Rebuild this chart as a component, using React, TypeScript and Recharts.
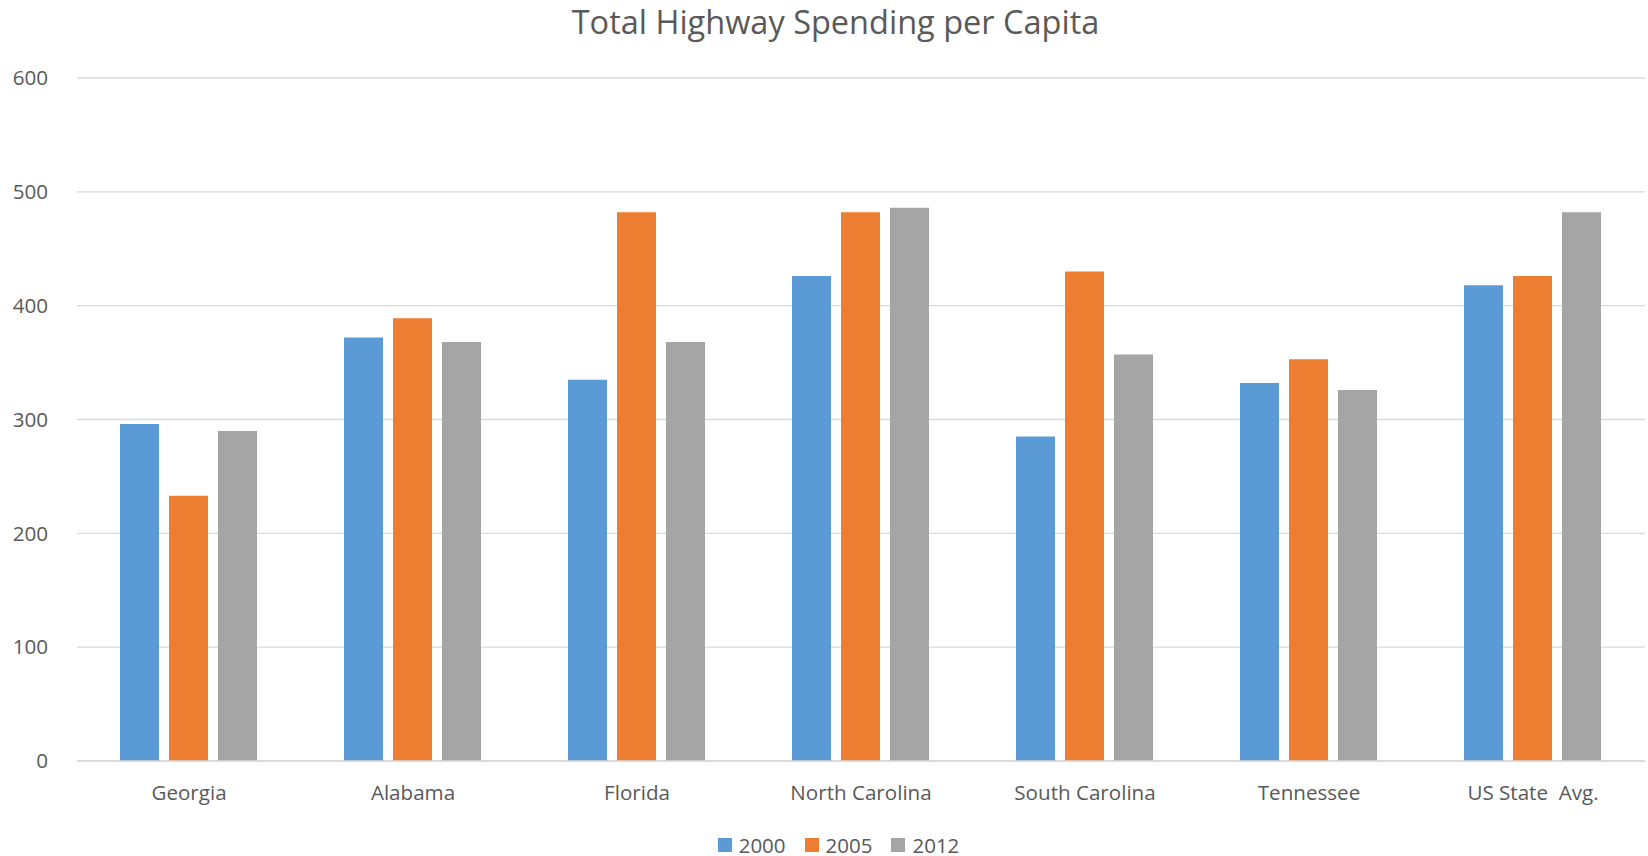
import React from "react";
import { BarChart, Bar, XAxis, YAxis, CartesianGrid, Legend } from "recharts";

const categories = ["Georgia", "Alabama", "Florida", "North Carolina", "South Carolina", "Tennessee", "US State  Avg."];
const values2000 = [296, 372, 335, 426, 285, 332, 418];
const values2005 = [233, 389, 482, 482, 430, 353, 426];
const values2012 = [290, 368, 368, 486, 357, 326, 482];
const yTicks = [0, 100, 200, 300, 400, 500, 600];
const seriesNames = ["2000", "2005", "2012"];
const title = "Total Highway Spending per Capita";

const data = categories.map((c, i) => ({
  name: c,
  "2000": values2000[i],
  "2005": values2005[i],
  "2012": values2012[i],
}));

const colors = ["#5B9BD5", "#ED7D31", "#A5A5A5"];
const FONT = "'Open Sans', sans-serif";
const TEXT = "#595959";

const CategoryTick = (props: any) => {
  const { x, y, payload } = props;
  return (
    <text
      x={x}
      y={y}
      dy="0.71em"
      textAnchor="middle"
      fontFamily={FONT}
      fontSize={20.6}
      fill={TEXT}
      style={{ whiteSpace: "pre" }}
      xmlSpace="preserve"
    >
      {payload.value}
    </text>
  );
};

const renderLegend = (props: any) => {
  const { payload } = props;
  return (
    <div style={{ display: "flex", justifyContent: "center", alignItems: "center", height: 20, paddingLeft: 32, fontFamily: FONT, fontSize: 20.5, color: TEXT }}>
      {payload.map((p: any, i: number) => (
        <div key={i} style={{ display: "flex", alignItems: "center", marginRight: i < payload.length - 1 ? 19 : 0 }}>
          <div style={{ width: 14, height: 14, background: p.color, marginRight: 7 }} />
          <span style={{ lineHeight: "20px" }}>{p.value}</span>
        </div>
      ))}
    </div>
  );
};

export default function App() {
  return (
    <div style={{ position: "absolute", left: 0, top: 0, width: 1648, height: 856, background: "#fff" }}>
      <BarChart
        width={1648}
        height={856}
        data={data}
        margin={{ top: 78, right: 3, bottom: 45, left: 0 }}
        barGap={10}
        barCategoryGap="19.2%"
      >
        <text x={835.5} y={34.3} textAnchor="middle" fontFamily={FONT} fontSize={32.5} fill={TEXT}>
          {title}
        </text>
        <CartesianGrid vertical={false} stroke="#D9D9D9" strokeWidth={1.3} />
        <XAxis
          dataKey="name"
          height={30}
          tickLine={false}
          axisLine={{ stroke: "#D9D9D9", strokeWidth: 1.3 }}
          tickSize={0}
          tickMargin={24}
          interval={0}
          tick={<CategoryTick />}
        />
        <YAxis
          width={77}
          domain={[0, 600]}
          ticks={yTicks}
          axisLine={false}
          tickLine={false}
          tickSize={0}
          tickMargin={29}
          tick={{ fontFamily: FONT, fontSize: 20.6, fill: TEXT }}
        />
        <Legend
          verticalAlign="bottom"
          content={renderLegend}
          wrapperStyle={{ bottom: 1 }}
        />
        {seriesNames.map((s, i) => (
          <Bar key={s} dataKey={s} name={s} fill={colors[i]} isAnimationActive={false} />
        ))}
      </BarChart>
    </div>
  );
}
